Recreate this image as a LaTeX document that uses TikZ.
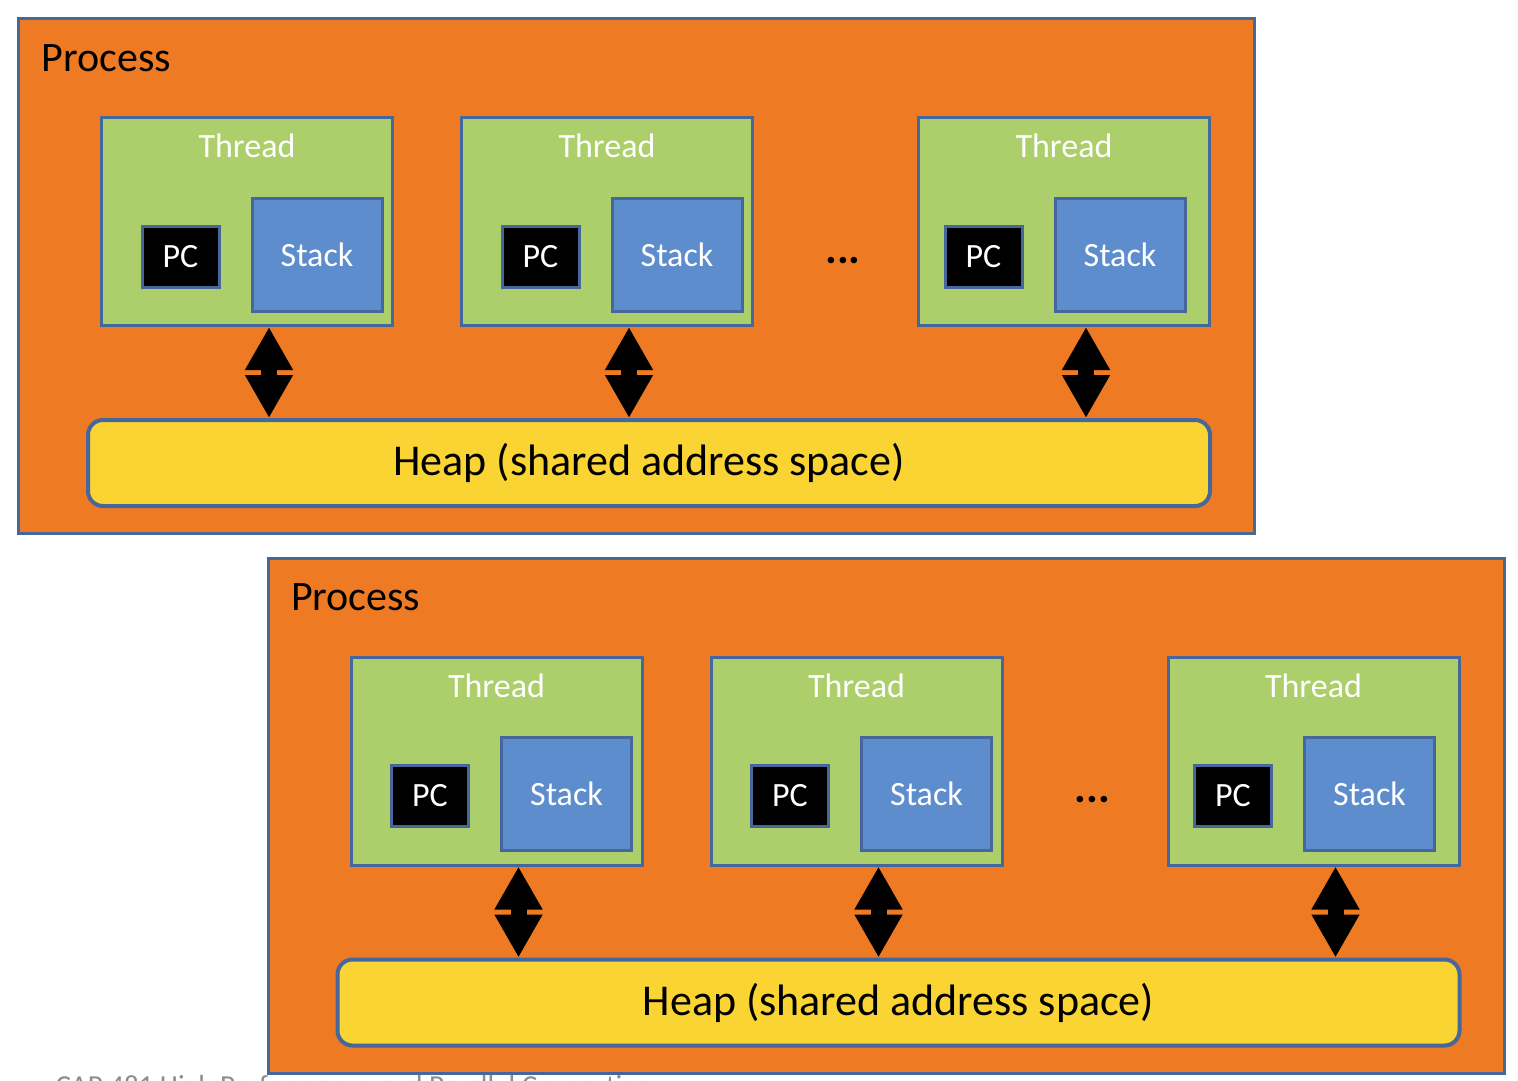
\documentclass[tikz,border=0pt]{standalone}
\usepackage{fontspec}
\setmainfont{Carlito}
\usepackage{tikz}
\usetikzlibrary{arrows.meta,positioning,calc}
\definecolor{procorange}{HTML}{EE7B23}
\definecolor{threadgreen}{HTML}{ADCF6B}
\definecolor{stackblue}{HTML}{5E8DCE}
\definecolor{heapyellow}{HTML}{F9D433}
\definecolor{edgeblue}{HTML}{46679C}

\begin{document}
\begin{tikzpicture}[x=1pt,y=-1pt,
    procbox/.style={draw=edgeblue,line width=3pt,fill=procorange,minimum width=1236pt,minimum height=515pt,anchor=north west,inner sep=0pt},
    threadbox/.style={draw=edgeblue,line width=3pt,fill=threadgreen,minimum width=291pt,minimum height=208pt,anchor=north west,inner sep=0pt},
    pcbox/.style={draw=edgeblue,line width=3pt,fill=black,text=white,minimum width=77pt,minimum height=61pt,inner sep=0pt,font=\fontsize{34}{36}\selectfont},
    stackbox/.style={draw=edgeblue,line width=3pt,fill=stackblue,text=white,minimum width=130pt,minimum height=113pt,inner sep=0pt,font=\fontsize{34}{36}\selectfont},
    heapbox/.style={draw=edgeblue,line width=4pt,fill=heapyellow,rounded corners=15pt,minimum width=1122pt,minimum height=86pt,inner sep=0pt,font=\fontsize{44}{46}\selectfont},
    bigarrow/.style={line width=16pt,{Triangle[length=43pt,width=45pt]}-{Triangle[length=43pt,width=45pt]}}]
    \useasboundingbox (0,0) rectangle (1518,1080);
    \fill[white] (0,0) rectangle (1518,1080);
    \foreach \p/\ox/\oy in {1/0/0,2/249.5/539.5}{
    \begin{scope}[shift={(\ox,\oy)}]
        \node[procbox] (proc\p) at (17,17) {};
        \node[anchor=base west,font=\fontsize{42}{44}\selectfont] (proclbl\p) at (38,71) {Process};
        % last thread has its PC and Stack a bit further left
        \foreach \t/\tx/\dx in {1/100/0,2/460/0,3/917/-14}{
            \node[threadbox] (thr\p\t) at (\tx,116) {};
            \node[anchor=center,text=white,font=\fontsize{34}{36}\selectfont] (thrlbl\p\t) at ([yshift=-30]thr\p\t.north) {Thread};
            \node[pcbox] (pc\p\t) at ($(thr\p\t.north west)+(80.5+\dx,140.5)$) {PC};
            \node[stackbox] (stk\p\t) at ($(thr\p\t.north west)+(217+\dx,138.5)$) {Stack};
        }
        \node[anchor=base,font=\fontsize{44}{46}\selectfont\bfseries] (dots\p) at (843,263) {...};
        \node[heapbox] (heap\p) at (649,463) {Heap (shared address space)};
        \foreach \t in {1,2,3}{
            \coordinate (arr\p\t) at ([xshift=22]thr\p\t.south);
            \draw[bigarrow] (arr\p\t) -- (arr\p\t |- heap\p.north);
        }
    \end{scope}
    }
    \node[anchor=base west,text=black!45,font=\fontsize{29}{31}\selectfont] (footer) at (52,1095) {CAP 481 High Performance and Parallel Computing};
\end{tikzpicture}
\end{document}
